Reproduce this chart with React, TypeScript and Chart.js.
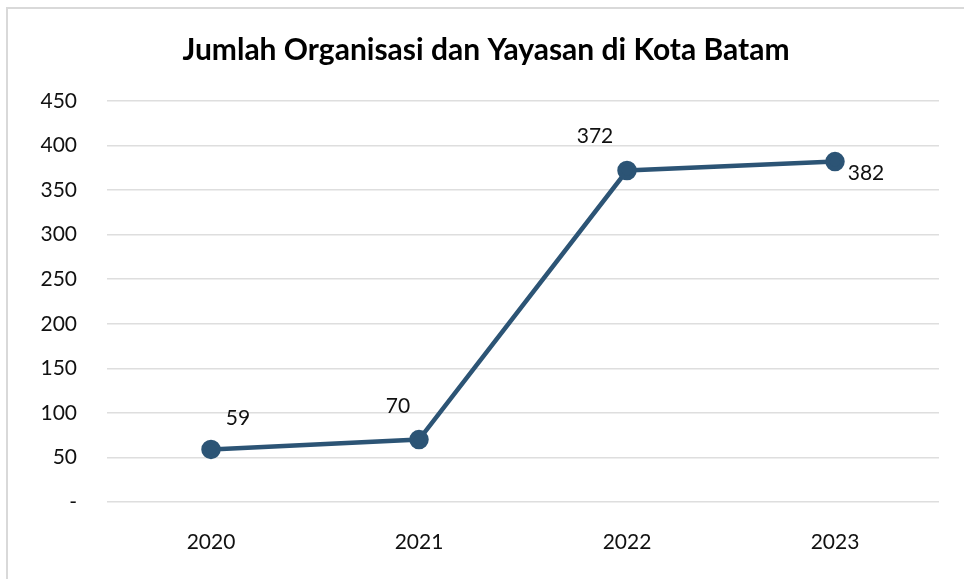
import React, { useEffect, useRef } from "react";
import { Chart, registerables } from "chart.js";

Chart.register(...registerables);

const TITLE = "Jumlah Organisasi dan Yayasan di Kota Batam";
const categories = ["2020", "2021", "2022", "2023"];
const values = [59, 70, 372, 382];
const yTicks = [0, 50, 100, 150, 200, 250, 300, 350, 400, 450];

const LINE_COLOR = "#2C5475";
const FONT = "Lato, 'Open Sans', sans-serif";

// label offsets relative to each point (style only)
const labelOffsets = [
  [27, -31],
  [-21, -33],
  [-32, -34],
  [31, 12],
];

const dataLabelPlugin = {
  id: "dataLabels",
  afterDatasetsDraw(chart: any) {
    const ctx = chart.ctx;
    const meta = chart.getDatasetMeta(0);
    ctx.save();
    ctx.font = `21px ${FONT}`;
    ctx.fillStyle = "#111";
    ctx.textAlign = "center";
    ctx.textBaseline = "middle";
    meta.data.forEach((pt: any, i: number) => {
      const off = labelOffsets[i] || [0, -30];
      ctx.fillText(String(values[i]), pt.x + off[0], pt.y + off[1]);
    });
    ctx.restore();
  },
};

export default function App() {
  const ref = useRef<HTMLCanvasElement>(null);
  useEffect(() => {
    if (!ref.current) return;
    const chart = new Chart(ref.current, {
      type: "line",
      data: {
        labels: categories,
        datasets: [
          {
            data: values,
            borderColor: LINE_COLOR,
            backgroundColor: LINE_COLOR,
            borderWidth: 4.5,
            pointRadius: 7.5,
            pointHoverRadius: 7.5,
            pointBackgroundColor: LINE_COLOR,
            pointBorderColor: LINE_COLOR,
            tension: 0,
          },
        ],
      },
      options: {
        animation: false,
        responsive: false,
        maintainAspectRatio: false,
        layout: { padding: { left: 33, right: 25, top: 0, bottom: 0 } },
        plugins: {
          legend: { display: false },
          tooltip: { enabled: false },
          title: {
            display: true,
            text: TITLE,
            color: "#000",
            font: { family: FONT, size: 30, weight: "bold", lineHeight: 1.2 },
            padding: { top: 32, bottom: 33 },
          },
        },
        scales: {
          x: {
            type: "category",
            offset: true,
            afterFit(scale: any) {
              scale.height = 77;
            },
            grid: { display: false, drawTicks: false },
            border: { display: false },
            ticks: {
              color: "#111",
              font: { family: FONT, size: 21 },
              padding: 28,
              maxRotation: 0,
            },
          },
          y: {
            min: 0,
            max: 450,
            afterFit(scale: any) {
              scale.width = 74;
            },
            afterBuildTicks(scale: any) {
              scale.ticks = yTicks.map((v) => ({ value: v }));
            },
            grid: { color: "#dedede", lineWidth: 1.5, drawTicks: false },
            border: { display: false },
            ticks: {
              color: "#111",
              font: { family: FONT, size: 21 },
              padding: 30,
              callback: (v: any) => (Number(v) === 0 ? "-" : String(v)),
            },
          },
        },
      },
      plugins: [dataLabelPlugin],
    });
    return () => chart.destroy();
  }, []);

  return (
    <div
      style={{
        position: "fixed",
        left: 0,
        top: 0,
        width: 964,
        height: 579,
        overflow: "hidden",
        background: "#fff",
      }}
    >
      <div
        style={{
          position: "absolute",
          left: 6,
          top: 7,
          width: 1000,
          height: 1000,
          border: "2px solid #d9d9d9",
        }}
      />
      <canvas
        ref={ref}
        width={964}
        height={579}
        style={{ position: "absolute", left: 0, top: 0, width: 964, height: 579 }}
      />
    </div>
  );
}
